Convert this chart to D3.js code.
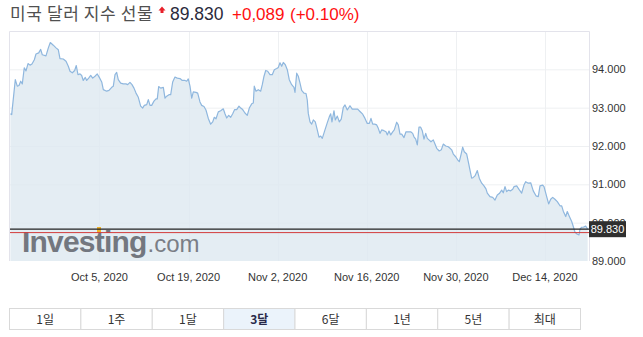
<!DOCTYPE html>
<html><head><meta charset="utf-8">
<script src="https://cdn.jsdelivr.net/npm/d3@7"></script>
<style>
body{margin:0;background:#fff;}
svg{display:block;font-family:"Liberation Sans",Arial,sans-serif;}
</style>
</head><body>
<svg id="c" width="643" height="337"></svg>
<script>
// ---- data ----
const title = "미국 달러 지수 선물";
const lastPrice = 89.830;
const lastPriceLabel = "89.830";
const changeLabel = "+0,089";
const changePctLabel = "(+0.10%)";
const prevClose = 89.741;
const startDate = Date.UTC(2020, 8, 21); // Sep 21, 2020
// days since Sep 21, 2020
const days = [0,0.20,0.77,1.08,1.35,1.62,1.87,2.18,2.45,2.77,3.08,3.39,3.76,4.02,4.45,4.76,5.01,5.59,5.96,6.27,
6.74,7.17,7.53,7.79,8.31,8.74,9.10,9.37,9.73,10.10,10.35,10.62,10.94,11.20,11.45,11.77,11.99,12.30,12.62,12.93,
13.29,13.65,13.97,14.35,14.60,15.13,15.49,15.92,16.17,16.44,16.70,16.95,17.33,17.74,18.16,18.43,18.79,19.11,19.42,19.74,
20.10,20.47,20.79,21.04,21.42,21.67,21.94,22.20,22.56,22.88,23.08,23.30,23.62,24.03,24.29,24.56,24.92,25.19,25.50,25.86,
26.22,26.65,27.01,27.44,27.70,27.95,28.22,28.49,28.74,29.16,29.43,29.79,30.06,30.42,30.73,31.10,31.47,31.79,32.04,32.31,
32.67,33.04,33.45,33.72,33.99,34.30,34.62,34.93,35.24,35.56,35.92,36.19,36.50,36.86,37.22,37.54,37.92,38.17,38.32,38.59,
38.95,39.33,39.58,39.85,40.12,40.43,40.79,41.15,41.47,41.84,42.10,42.36,42.63,42.88,43.20,43.51,43.82,44.20,44.56,44.72,
44.99,45.24,45.51,45.77,46.13,46.45,46.65,46.81,47.08,47.34,47.60,47.91,48.22,48.49,48.76,49.01,49.43,49.80,50.11,50.33,
50.53,50.85,51.05,51.37,51.68,51.99,52.31,52.58,52.94,53.36,53.72,54.15,54.57,54.93,55.36,55.72,56.08,56.40,56.66,56.93,
57.24,57.56,57.81,58.08,58.34,58.70,59.02,59.22,59.49,59.76,60.07,60.32,60.70,60.95,61.22,61.49,61.85,62.16,62.52,62.90,
63.21,63.42,63.69,63.94,64.20,64.47,64.72,64.99,65.26,65.51,65.77,66.09,66.45,66.72,66.99,67.39,67.71,68.02,68.40,68.81,
69.08,69.34,69.60,69.97,70.28,70.54,70.80,71.07,71.32,71.70,71.95,72.22,72.48,72.74,73.00,73.37,73.68,74.06,74.42,74.73,
74.94,75.36,75.79,76.15,76.51,76.82,77.20,77.45,77.72,77.98,78.24,78.61,78.93,79.13,79.56,79.92,80.34,80.70,80.97,81.38,
81.76,82.16,82.59,82.95,83.22,83.64,83.85,84.27,84.58,84.90,85.21,85.57,85.94,86.36,86.63,86.88,87.26,87.51,87.82,88.20,
88.45,88.72,89.08,89.35,89.50,89.77,90.02,90.40,90.71];
const values = [92.84,92.82,93.73,93.56,93.58,93.69,93.62,94.04,93.96,94.15,94.11,94.14,94.25,94.40,94.43,94.52,94.38,94.35,94.56,94.70,
94.63,94.56,94.51,94.28,94.27,94.21,94.08,93.95,93.91,93.97,94.10,93.86,93.88,93.84,93.71,93.79,93.71,93.77,93.84,93.77,
93.82,93.88,93.79,93.67,93.47,93.43,93.45,93.53,93.56,93.86,93.92,93.73,93.64,93.62,93.62,93.60,93.66,93.60,93.51,93.38,
93.27,93.04,92.99,93.06,93.08,93.21,93.06,93.06,93.17,93.23,93.23,93.55,93.51,93.53,93.25,93.30,93.34,93.34,93.67,93.80,
93.77,93.76,93.71,93.71,93.69,93.75,93.56,93.25,93.41,93.40,93.38,93.15,93.06,93.03,92.94,92.72,92.57,92.63,92.75,92.71,
92.89,92.92,92.97,92.84,92.73,92.80,92.75,92.84,92.95,92.95,93.04,92.99,92.95,92.86,92.80,92.99,93.10,93.12,93.56,93.43,
93.47,93.43,93.60,93.82,93.97,93.95,93.86,93.86,93.99,94.02,94.05,94.17,94.08,94.18,94.12,93.99,93.73,93.60,93.53,93.40,
93.90,93.82,93.64,93.45,93.38,93.37,93.20,92.85,92.63,92.57,92.68,92.63,92.42,92.23,92.26,92.20,92.42,92.61,92.76,92.84,
92.63,92.92,92.68,92.78,92.63,92.70,93.01,93.07,92.94,93.05,92.96,92.96,92.96,92.90,92.83,92.72,92.59,92.59,92.72,92.57,
92.57,92.55,92.46,92.33,92.42,92.40,92.37,92.29,92.39,92.29,92.37,92.42,92.62,92.55,92.31,92.31,92.22,92.37,92.37,92.37,
92.33,92.24,92.18,92.03,92.49,92.49,92.40,92.18,92.33,92.20,92.16,92.11,92.16,92.05,91.94,91.87,91.90,92.05,92.00,91.98,
91.94,91.90,91.79,91.72,91.64,91.59,91.77,91.97,91.85,91.79,91.59,91.37,91.16,91.18,91.22,91.36,91.16,91.03,90.96,90.88,
90.77,90.68,90.66,90.59,90.72,90.76,90.85,90.78,90.94,90.81,90.85,90.83,90.87,90.94,90.96,90.87,90.77,90.98,91.07,91.03,
91.04,90.83,90.70,90.68,90.96,90.98,90.94,90.68,90.49,90.61,90.66,90.61,90.55,90.44,90.44,90.30,90.16,90.29,90.17,90.03,
89.90,89.75,89.70,89.68,89.83,89.88,89.88,89.91,89.83];
const xTickDates = ["2020-10-05","2020-10-19","2020-11-02","2020-11-16","2020-11-30","2020-12-14"];
const xTickLabels = ["Oct 5, 2020","Oct 19, 2020","Nov 2, 2020","Nov 16, 2020","Nov 30, 2020","Dec 14, 2020"];
const yTicks = [89, 90, 91, 92, 93, 94];
const ranges = ["1일","1주","1달","3달","6달","1년","5년","최대"];
const activeRange = "3달";

// ---- layout ----
const svg = d3.select("#c");
const P = {l: 9, r: 589, t: 31, b: 261};
const DAY = 864e5;
const data = days.map((d, i) => ({date: new Date(startDate + d * DAY), v: values[i]}));

const x = d3.scaleUtc()
  .domain([new Date(startDate - 0.22 * DAY), new Date(startDate + 90.92 * DAY)])
  .range([P.l, P.r]);
const y = d3.scaleLinear().domain([89, 95]).range([P.b, P.t]);

svg.append("defs").append("clipPath").attr("id", "clip")
  .append("rect").attr("x", P.l).attr("y", P.t).attr("width", P.r - P.l).attr("height", P.b - P.t);

// header
const hdr = svg.append("g");
hdr.append("text").attr("x", 10).attr("y", 20)
  .style("font-family", '"Noto Sans CJK KR","Noto Sans",sans-serif')
  .style("font-size", "17px").attr("letter-spacing", "0.6").attr("fill", "#505050").text(title);
hdr.append("path")
  .attr("d", "M158.5,10.5 L162,6.5 L165.5,10.5 L163.5,10.5 L163.5,13 L160.5,13 L160.5,10.5 Z")
  .attr("fill", "#e8202a");
hdr.append("text").attr("x", 170).attr("y", 20).style("font-size", "17.5px").attr("fill", "#2a2a3c").text(lastPriceLabel);
hdr.append("text").attr("x", 232).attr("y", 20).style("font-size", "17px").attr("fill", "#ff1010").text(changeLabel);
hdr.append("text").attr("x", 290).attr("y", 20).style("font-size", "17px").attr("fill", "#ff1010").text(changePctLabel);

// grid
const grid = svg.append("g");
grid.selectAll(".gy").data(yTicks.filter(t => t > 89)).join("line")
  .attr("x1", P.l).attr("x2", P.r).attr("y1", d => y(d) + 0.5).attr("y2", d => y(d) + 0.5)
  .attr("stroke", "#eef0f2");
grid.selectAll(".gx").data(xTickDates).join("line")
  .attr("x1", d => Math.round(x(new Date(d + "T00:00:00Z"))) + 0.5)
  .attr("x2", d => Math.round(x(new Date(d + "T00:00:00Z"))) + 0.5)
  .attr("y1", P.t).attr("y2", P.b).attr("stroke", "#eef0f2");

// area + line
const area = d3.area().x(d => x(d.date)).y0(P.b).y1(d => y(d.v));
const line = d3.line().x(d => x(d.date)).y(d => y(d.v));
const plot = svg.append("g").attr("clip-path", "url(#clip)");
plot.append("path").datum(data).attr("d", area).attr("fill", "#dde8f0").attr("fill-opacity", 0.8);
plot.append("path").datum(data).attr("d", line).attr("fill", "none")
  .attr("stroke", "#8fb7de").attr("stroke-width", 1.2).attr("stroke-linejoin", "round");

// watermark
const wm = svg.append("text").attr("x", 22).attr("y", 252).attr("fill", "#73777f");
wm.append("tspan").style("font-size", "30px").style("font-weight", "bold").attr("letter-spacing", "-0.8").text("Investing");
wm.append("tspan").attr("dx", 1).style("font-size", "24px").attr("fill", "#7a7e86").text(".com");
svg.append("rect").attr("x", 97).attr("y", 227).attr("width", 4).attr("height", 6).attr("fill", "#f0b429");

// price lines
svg.append("line").attr("x1", P.l).attr("x2", P.r)
  .attr("y1", y(prevClose)).attr("y2", y(prevClose)).attr("stroke", "#d23c3c").attr("stroke-width", 1);
svg.append("line").attr("x1", P.l).attr("x2", P.r)
  .attr("y1", y(lastPrice)).attr("y2", y(lastPrice)).attr("stroke", "#222").attr("stroke-width", 1.2);

// border
svg.append("path")
  .attr("d", `M${P.l + 0.5},${P.b} V${P.t + 0.5} H${P.r + 0.5} V${P.b}`)
  .attr("fill", "none").attr("stroke", "#e3e3eb");

// y axis labels
svg.append("g").selectAll("text").data(yTicks).join("text")
  .attr("x", 592).attr("y", d => y(d) + 4)
  .style("font-size", "11px").attr("fill", "#333").text(d => d.toFixed(3));

// price box
const pb = svg.append("g");
pb.append("rect").attr("x", 589).attr("y", y(lastPrice) - 8).attr("width", 37).attr("height", 16).attr("fill", "#2f2f2f");
pb.append("text").attr("x", 607.5).attr("y", y(lastPrice) + 4).attr("text-anchor", "middle")
  .style("font-size", "11px").attr("fill", "#fff").text(lastPriceLabel);

// x axis labels
svg.append("g").selectAll("text").data(xTickDates).join("text")
  .attr("x", (d) => x(new Date(d + "T00:00:00Z")))
  .attr("y", 281).attr("text-anchor", "middle")
  .style("font-size", "11px").attr("fill", "#333")
  .text((d, i) => xTickLabels[i]);

// range buttons
const bx = d3.scaleBand().domain(ranges).range([9, 580]);
const btn = svg.append("g").selectAll("g").data(ranges).join("g")
  .attr("transform", d => `translate(${bx(d)},308)`);
btn.append("rect").attr("x", 0.5).attr("y", 0.5).attr("width", bx.bandwidth()).attr("height", 21)
  .attr("fill", d => d === activeRange ? "#ebf3fb" : "#fff").attr("stroke", "#d9d9d9");
btn.append("text").attr("x", bx.bandwidth() / 2 + 0.5).attr("y", 15.5).attr("text-anchor", "middle")
  .style("font-family", '"Noto Sans CJK KR","Noto Sans",sans-serif').style("font-size", "12px")
  .attr("fill", d => d === activeRange ? "#2a2a4a" : "#333")
  .style("font-weight", d => d === activeRange ? "bold" : "normal")
  .text(d => d);
</script>
</body></html>
